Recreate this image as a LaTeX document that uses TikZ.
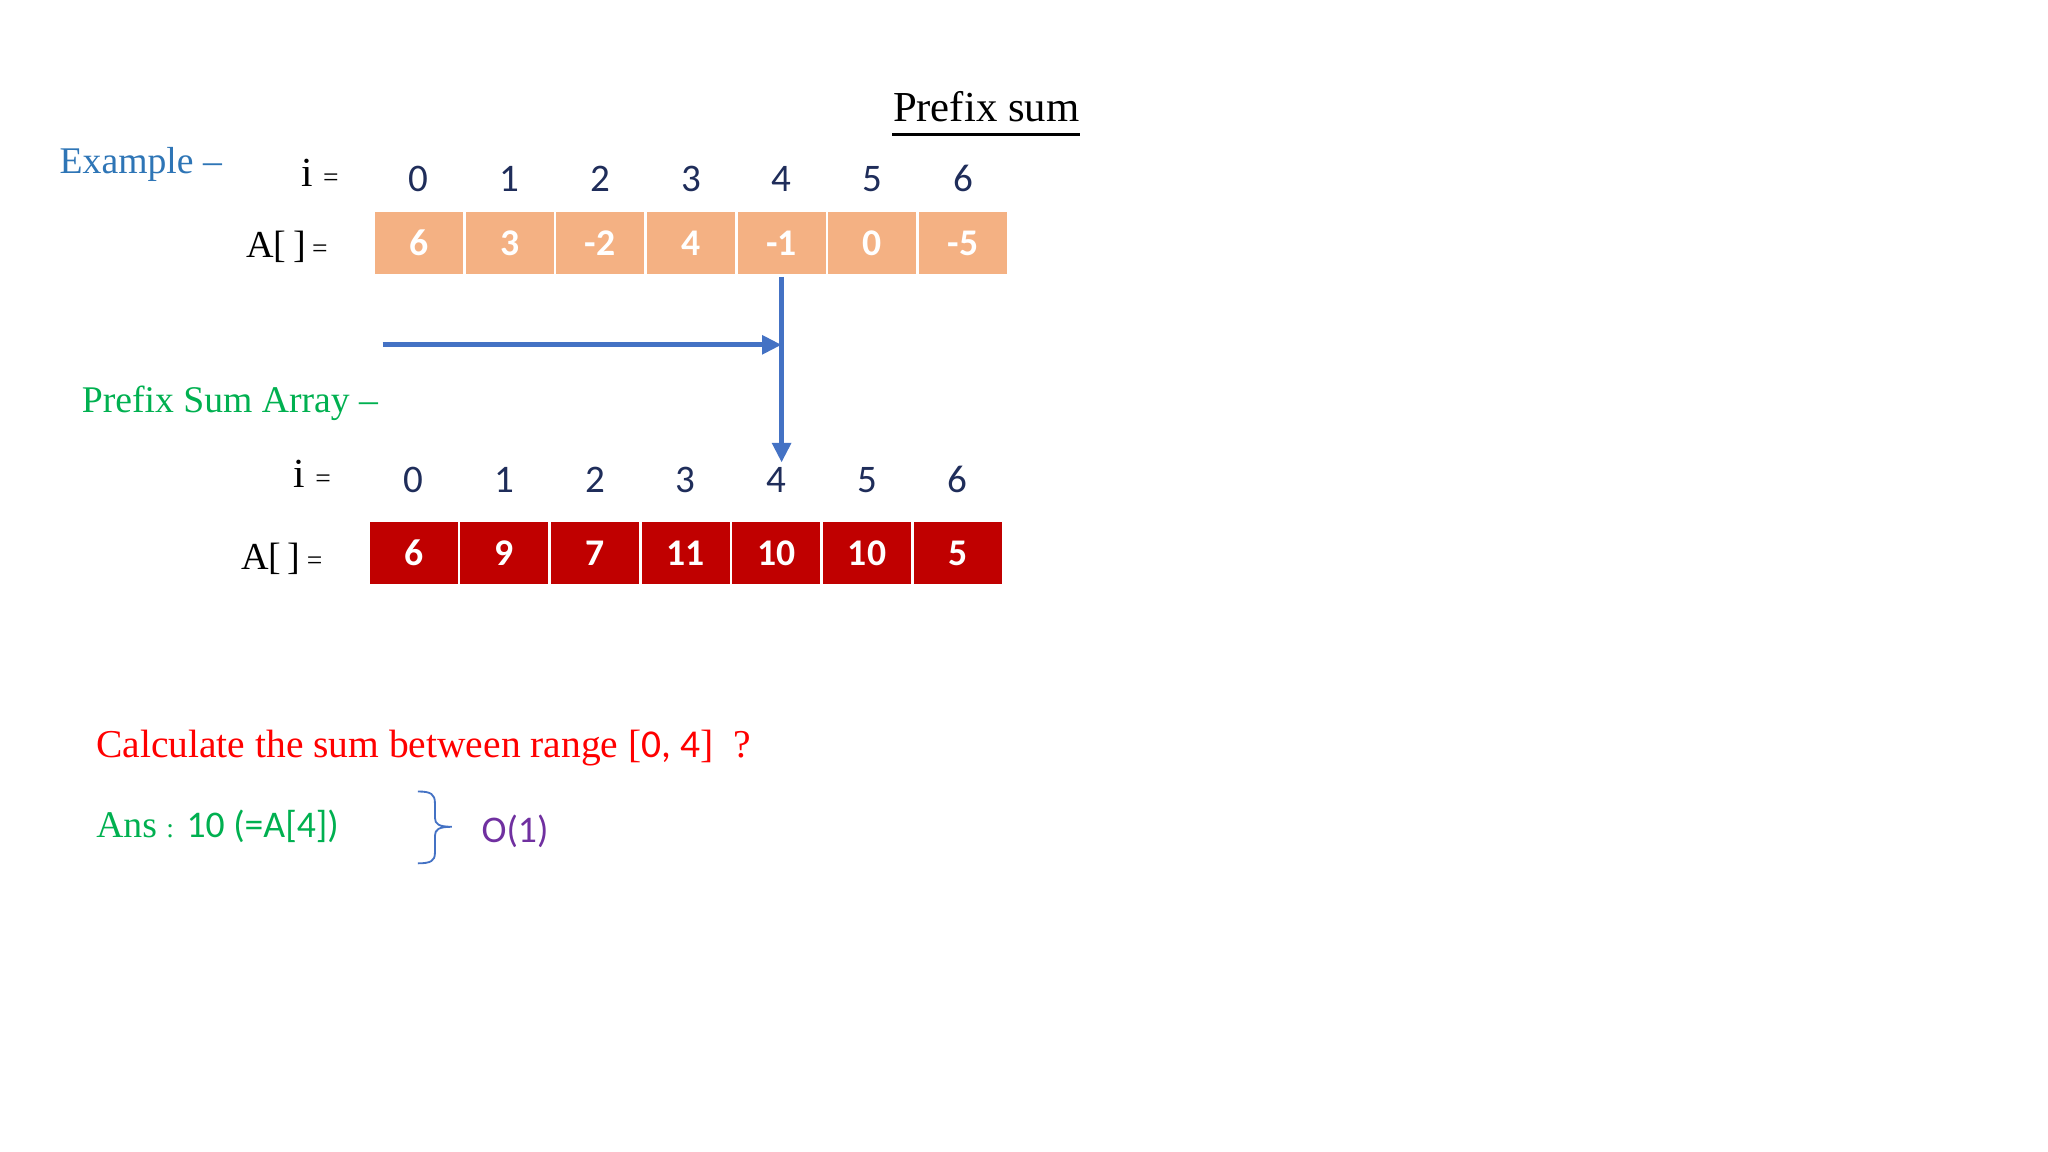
\documentclass[tikz,border=0pt]{standalone}
\usepackage{fontspec}
\setmainfont{Liberation Serif}
\newfontfamily\calib{Carlito}
\usetikzlibrary{arrows.meta}
\definecolor{peach}{HTML}{F4B183}
\definecolor{darkred}{HTML}{C00000}
\definecolor{arrowblue}{HTML}{4472C4}
\definecolor{exblue}{HTML}{2E75B6}
\definecolor{psgreen}{HTML}{00B050}
\definecolor{idxnavy}{HTML}{1F2D5A}
\definecolor{ordpurple}{HTML}{7030A0}
\begin{document}
\begin{tikzpicture}[x=0.01cm,y=-0.01cm,
  lbl/.style={anchor=base west,inner sep=0pt,font=\fontsize{8.2}{9.8}\selectfont},
  idx/.style={anchor=base,inner sep=0pt,text=idxnavy,font=\calib\fontsize{8.5}{10}\selectfont},
  cellA/.style={draw=white,line width=0.6pt,fill=peach,minimum width=6.94mm,minimum height=5mm,inner sep=0pt,text=white,font=\calib\bfseries\fontsize{8.2}{10}\selectfont},
  cellP/.style={cellA,fill=darkred},
  arr/.style={arrowblue,line width=1.1pt,-{Triangle[length=1.5mm,width=1.4mm]}}]
\useasboundingbox (0,0) rectangle (1568,882);
\node[lbl,font=\fontsize{9.3}{11}\selectfont] (title) at (683,93) {Prefix sum};
\draw[line width=0.6pt] ([yshift=-0.1cm]title.base west) -- ([yshift=-0.1cm]title.base east);
\node[lbl,text=exblue] (ex) at (45,133) {Example –};
\node[lbl,font=\fontsize{9}{11}\selectfont] (ia) at (230,143) {i {\fontsize{6}{7}\selectfont =}};
\node[lbl,font=\fontsize{8.3}{10}\selectfont] (Aa) at (188,197) {A[\,]\,{\fontsize{6}{7}\selectfont =}};
\foreach \v [count=\k from 0] in {6,3,-2,4,-1,0,-5}{
  \node[cellA] (a\k) at ({320.7+69.43*\k},186) {\v};
  \node[idx] (ia\k) at ({320.7+69.43*\k},147) {\k};
}
\node[lbl,text=psgreen] (psa) at (62,316) {Prefix Sum Array –};
\node[lbl,font=\fontsize{9}{11}\selectfont] (ip) at (224,373) {i {\fontsize{6}{7}\selectfont =}};
\node[lbl,font=\fontsize{8.3}{10}\selectfont] (Ap) at (184,436) {A[\,]\,{\fontsize{6}{7}\selectfont =}};
\foreach \v [count=\k from 0] in {6,9,7,11,10,10,5}{
  \node[cellP] (p\k) at ({316.7+69.43*\k},423.5) {\v};
  \node[idx] (ip\k) at ({316.7+69.43*\k},377) {\k};
}
\coordinate (s) at (293,264);
\draw[arr] (s) -- (s -| a4.south);
\draw[arr] (a4.south) -- ([yshift=0.03cm]a4.south |- ip4.north);
\node[lbl,text=red,font=\fontsize{8.6}{10}\selectfont] (q) at (73,580) {Calculate the sum between range [{\calib 0, 4}]\ \ ?};
\node[lbl,text=psgreen] (ans) at (73,641) {Ans {\fontsize{6}{7}\selectfont :} {\calib 10 (=A[4])}};
\node[lbl,text=ordpurple,font=\calib\fontsize{8.2}{10}\selectfont] (ord) at (368,645) {O(1)};
\draw[arrowblue,line width=0.4pt] (320,606) .. controls (330,606) and (333,608) .. (333,615) -- (333,626) .. controls (333,631) and (336,633) .. (346,633) .. controls (336,633) and (333,635) .. (333,640) -- (333,653) .. controls (333,659) and (330,661) .. (320,661);
\end{tikzpicture}
\end{document}
